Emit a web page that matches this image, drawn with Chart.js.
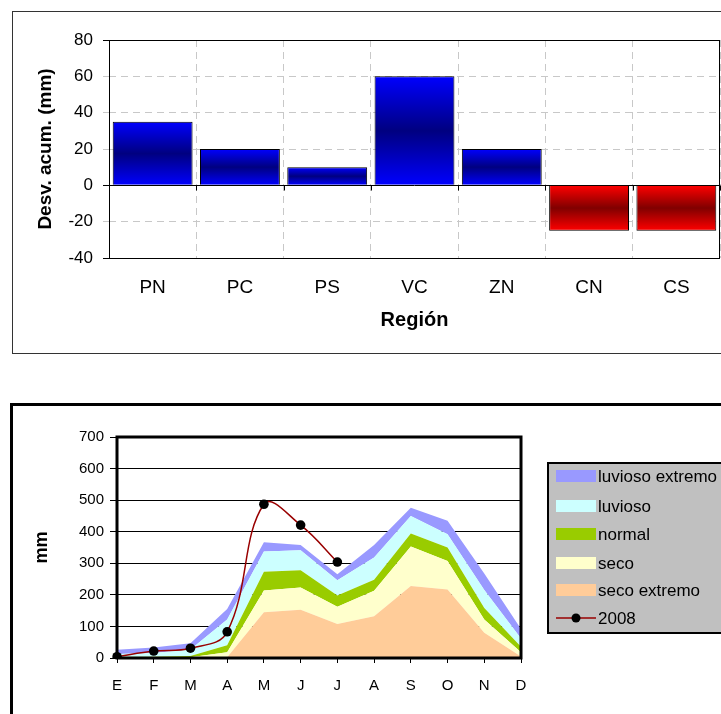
<!DOCTYPE html>
<html><head><meta charset="utf-8">
<script src="https://cdn.jsdelivr.net/npm/chart.js@4.4.1/dist/chart.umd.min.js"></script>
<style>
html,body{margin:0;padding:0;background:#fff;overflow:hidden;width:721px;height:714px;}
#w1{position:absolute;left:0;top:0;width:721px;height:360px;}
#w2{position:absolute;left:0;top:380px;width:721px;height:334px;}
</style></head><body>
<div id="w1"><canvas id="c1" width="721" height="360"></canvas></div>
<div id="w2"><canvas id="c2" width="721" height="334"></canvas></div>
<script>
// ---------- Top chart data ----------
const regiones = ['PN', 'PC', 'PS', 'VC', 'ZN', 'CN', 'CS'];
const desvAcum = [35, 20, 10, 60, 20, -25, -25];

// ---------- Bottom chart data (upper limits of each category, mm) ----------
const meses = ['E', 'F', 'M', 'A', 'M', 'J', 'J', 'A', 'S', 'O', 'N', 'D'];
const secoExtremo   = [0, 0, 0, 2, 145, 153, 108, 132, 228, 217, 80, 5];
const seco          = [0, 1, 2, 18, 214, 223, 162, 213, 353, 307, 122, 18];
const normal        = [3, 4, 6, 40, 273, 278, 198, 248, 394, 350, 158, 36];
const luvioso       = [13, 16, 27, 122, 337, 341, 246, 318, 450, 392, 215, 62];
const luviosoExtremo= [26, 33, 47, 155, 367, 358, 265, 358, 476, 435, 268, 92];
const lluvia2008    = [4, 22, 31, 83, 487, 421, 304, null, null, null, null, null];

const FONT = "'Liberation Sans', Arial, sans-serif";

function barGradient(c) {
  const chart = c.chart;
  const ys = chart.scales.y;
  const v = c.raw;
  const pos = v >= 0;
  const edge = pos ? '#0000ff' : '#ff0000';
  const mid = pos ? '#000080' : '#800000';
  if (!ys || c.type !== 'data') return edge;
  const p0 = ys.getPixelForValue(0), p1 = ys.getPixelForValue(v);
  if (!isFinite(p0) || !isFinite(p1) || p0 === p1) return edge;
  const g = chart.ctx.createLinearGradient(0, Math.min(p0, p1), 0, Math.max(p0, p1));
  g.addColorStop(0, edge);
  g.addColorStop(0.5, mid);
  g.addColorStop(1, edge);
  return g;
}

const topDeco = {
  id: 'topDeco',
  beforeDatasetsDraw(chart) {
    const {ctx, chartArea: a, scales: {x, y}} = chart;
    const y0 = Math.round(y.getPixelForValue(0)) + 0.5;
    ctx.save();
    ctx.strokeStyle = '#000';
    ctx.lineWidth = 1;
    ctx.beginPath();
    ctx.moveTo(a.left, y0); ctx.lineTo(a.right, y0);
    for (let i = 0; i <= regiones.length; i++) {
      const px = Math.round(x.getPixelForValue(i - 0.5)) + 0.5;
      ctx.moveTo(px, y0); ctx.lineTo(px, y0 + 5);
    }
    ctx.stroke();
    ctx.restore();
  },
  afterDraw(chart) {
    const {ctx, chartArea: a} = chart;
    ctx.save();
    ctx.strokeStyle = '#000';
    ctx.lineWidth = 1;
    ctx.strokeRect(Math.round(a.left) + 0.5, Math.round(a.top) + 0.5, Math.round(a.right - a.left) - 1, Math.round(a.bottom - a.top));
    ctx.strokeStyle = '#333';
    ctx.strokeRect(12.5, 11.5, 760, 342);
    ctx.restore();
  }
};

const solidTicks = [80, 0, -40];

new Chart(document.getElementById('c1'), {
  type: 'bar',
  data: {
    labels: regiones,
    datasets: [{
      data: desvAcum,
      backgroundColor: barGradient,
      borderColor: '#000',
      borderWidth: 1,
      barPercentage: 0.915,
      categoryPercentage: 1
    }]
  },
  options: {
    responsive: false, animation: false, devicePixelRatio: 1,
    layout: {padding: {left: 24, right: 1, top: 40, bottom: 0}},
    plugins: {legend: {display: false}, tooltip: {enabled: false}},
    scales: {
      x: {
        grid: {color: '#c8c8c8', lineWidth: 1, drawTicks: false, offset: true},
        border: {display: false, dash: [7, 5]},
        ticks: {color: '#000', font: {family: FONT, size: 19}, padding: 18},
        title: {display: true, text: 'Región', color: '#000', font: {family: FONT, size: 20, weight: 'bold'}, padding: {top: 0, bottom: 28}},
        afterFit(s) { s.height = 102; }
      },
      y: {
        min: -40, max: 80,
        grid: {
          color: (c) => (c.tick && c.tick.value === 0) ? 'rgba(0,0,0,0)' : '#c8c8c8',
          lineWidth: 1, drawTicks: true, tickLength: 6,
          tickColor: (c) => (c.tick && solidTicks.includes(c.tick.value)) ? '#000' : '#c8c8c8'
        },
        border: {display: false, dash: [7, 5]},
        ticks: {stepSize: 20, color: '#000', font: {family: FONT, size: 17}, padding: 10},
        title: {display: true, text: 'Desv. acum. (mm)', color: '#000', font: {family: FONT, size: 19, weight: 'bold'}, padding: {top: 10, bottom: 0}},
        afterFit(s) { s.width = 85; }
      }
    }
  },
  plugins: [topDeco]
});

// ---------- Bottom chart ----------
const bandColors = {
  luviosoExtremo: '#9999ff',
  luvioso: '#ccffff',
  normal: '#99cc00',
  seco: '#ffffcc',
  secoExtremo: '#ffcc99'
};

const bottomDeco = {
  id: 'bottomDeco',
  afterDatasetsDraw(chart) {
    const {ctx, chartArea: a} = chart;
    ctx.save();
    ctx.strokeStyle = '#000';
    ctx.lineWidth = 3;
    ctx.strokeRect(a.left, a.top, a.right - a.left, a.bottom - a.top);
    ctx.restore();
  },
  afterDraw(chart) {
    const ctx = chart.ctx;
    ctx.save();
    ctx.strokeStyle = '#000';
    ctx.lineWidth = 3;
    ctx.beginPath();
    ctx.moveTo(11.5, 400); ctx.lineTo(11.5, 24.5); ctx.lineTo(760, 24.5);
    ctx.stroke();
    const lx = 548, ly = 83, lw = 200, lh = 170;
    ctx.fillStyle = '#c0c0c0';
    ctx.fillRect(lx, ly, lw, lh);
    ctx.lineWidth = 2;
    ctx.strokeStyle = '#000';
    ctx.strokeRect(lx, ly, lw, lh);
    const order = [4, 3, 2, 1, 0, 5];
    const rows = [96, 126, 154, 183, 210, 238];
    ctx.font = '17px ' + FONT;
    ctx.textBaseline = 'middle';
    ctx.textAlign = 'left';
    order.forEach((di, k) => {
      const ds = chart.data.datasets[di];
      const cy = rows[k];
      if (di === 5) {
        ctx.strokeStyle = ds.borderColor;
        ctx.lineWidth = 1.5;
        ctx.beginPath(); ctx.moveTo(556, cy); ctx.lineTo(596, cy); ctx.stroke();
        ctx.fillStyle = '#000';
        ctx.beginPath(); ctx.arc(576, cy, 4.5, 0, Math.PI * 2); ctx.fill();
      } else {
        ctx.fillStyle = ds.backgroundColor;
        ctx.fillRect(556, cy - 6, 40, 12);
      }
      ctx.fillStyle = '#000';
      ctx.fillText(ds.label, 598, cy + 1);
    });
    ctx.restore();
  }
};

function band(label, data, color, fill) {
  return {
    label, data, fill,
    backgroundColor: color, borderColor: color, borderWidth: 0,
    pointRadius: 0, tension: 0, order: 1
  };
}

new Chart(document.getElementById('c2'), {
  type: 'line',
  data: {
    labels: meses,
    datasets: [
      band('seco extremo', secoExtremo, bandColors.secoExtremo, 'origin'),
      band('seco', seco, bandColors.seco, '-1'),
      band('normal', normal, bandColors.normal, '-1'),
      band('luvioso', luvioso, bandColors.luvioso, '-1'),
      band('luvioso extremo', luviosoExtremo, bandColors.luviosoExtremo, '-1'),
      {
        label: '2008', data: lluvia2008, fill: false,
        borderColor: '#990000', borderWidth: 1.5, tension: 0.4,
        pointRadius: 4.8, pointBackgroundColor: '#000', pointBorderColor: '#000', pointBorderWidth: 0,
        spanGaps: false, order: 0
      }
    ]
  },
  options: {
    responsive: false, animation: false, devicePixelRatio: 1,
    layout: {padding: {left: 20, right: 200, top: 57, bottom: 0}},
    plugins: {legend: {display: false}, tooltip: {enabled: false}, filler: {propagate: false}},
    scales: {
      x: {
        grid: {drawOnChartArea: false, drawTicks: true, tickLength: 5, tickColor: '#000', color: '#000'},
        border: {display: false},
        ticks: {color: '#000', font: {family: FONT, size: 15}, padding: 14, autoSkip: false, maxRotation: 0},
        afterFit(s) { s.height = 56; }
      },
      y: {
        min: 0, max: 700,
        grid: {color: '#000', lineWidth: 1, drawTicks: true, tickLength: 7, tickColor: '#000'},
        border: {display: false},
        ticks: {stepSize: 100, color: '#000', font: {family: FONT, size: 15}, padding: 6},
        title: {display: true, text: 'mm', color: '#000', font: {family: FONT, size: 18, weight: 'bold'}, padding: {top: 11, bottom: 0}},
        afterFit(s) { s.width = 97; }
      }
    }
  },
  plugins: [bottomDeco]
});
</script>
</body></html>
